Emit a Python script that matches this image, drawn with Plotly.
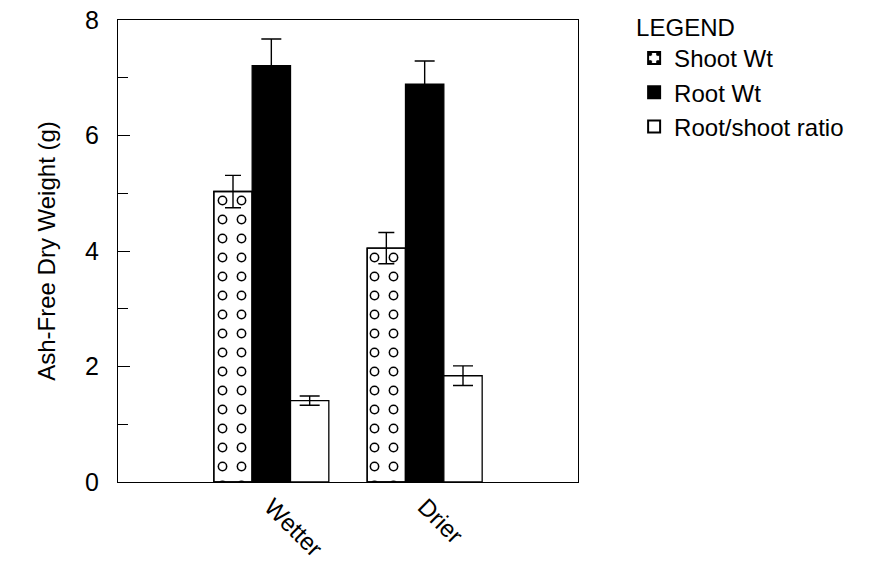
import plotly.graph_objects as go

categories = ["Wetter", "Drier"]
shoot_wt = [5.03, 4.05]
shoot_err = [0.28, 0.27]
root_wt = [7.21, 6.89]
root_err = [0.46, 0.40]
ratio = [1.41, 1.84]
ratio_err = [0.08, 0.17]

FONT = "Liberation Sans, Arial, Helvetica, sans-serif"
BW = 0.25

fig = go.Figure()

# Shoot Wt: black dots (legend entry)
fig.add_trace(go.Bar(
    name="Shoot Wt", x=categories, y=shoot_wt, width=BW, offset=-0.375,
    marker=dict(color="white", line=dict(color="black", width=1.3),
                pattern=dict(shape=".", fgcolor="black", bgcolor="white", fgopacity=1,
                             size=19, solidity=0.21)),
))
# white inner dots to turn the dots into rings
fig.add_trace(go.Bar(
    name="Shoot Wt", x=categories, y=shoot_wt, width=BW, offset=-0.375,
    showlegend=False,
    marker=dict(color="rgba(0,0,0,0)", line=dict(color="black", width=1.3),
                pattern=dict(shape=".", fgcolor="white", bgcolor="rgba(0,0,0,0)",
                             fgopacity=1, size=19, solidity=0.10)),
    error_y=dict(type="data", array=shoot_err, color="black", thickness=1.4, width=8),
))
fig.add_trace(go.Bar(
    name="Root Wt", x=categories, y=root_wt, width=BW, offset=-0.125,
    marker=dict(color="black", line=dict(color="black", width=1.3)),
    error_y=dict(type="data", array=root_err, color="black", thickness=1.4, width=10),
))
fig.add_trace(go.Bar(
    name="Root/shoot ratio", x=categories, y=ratio, width=BW, offset=0.125,
    marker=dict(color="white", line=dict(color="black", width=1.3)),
    error_y=dict(type="data", array=ratio_err, color="black", thickness=1.4, width=10),
))

fig.update_layout(
    width=865, height=557,
    margin=dict(l=110, r=295, t=12, b=83, autoexpand=False),
    barmode="overlay",
    plot_bgcolor="white", paper_bgcolor="white",
    font=dict(family=FONT, size=24, color="black"),
    showlegend=True,
    legend=dict(
        title=dict(text="LEGEND", font=dict(size=24)),
        x=1.122, xanchor="left", y=1.033, yanchor="top",
        font=dict(size=24), bgcolor="rgba(0,0,0,0)", traceorder="normal",
        tracegroupgap=0, itemsizing="constant",
    ),
)
fig.update_xaxes(
    type="category", range=[-1, 2], showline=True, linecolor="black", linewidth=1.3,
    mirror=True, ticks="", tickangle=45, tickfont=dict(size=24), showgrid=False,
    zeroline=False, automargin=False, ticklabeloverflow="allow",
)
fig.update_yaxes(
    range=[0, 8], dtick=2, showline=True, linecolor="black", linewidth=1.3,
    mirror=True, ticks="inside", ticklen=12, tickcolor="black", tickwidth=1.2,
    minor=dict(dtick=1, ticks="inside", ticklen=10, tickcolor="black", tickwidth=1.2),
    showgrid=False, zeroline=False, tickfont=dict(size=25), ticklabelstandoff=13,
    automargin=False, ticklabeloverflow="allow",
    title=dict(text="Ash-Free Dry Weight (g)", font=dict(size=24), standoff=22),
)

fig.write_html("out.html")
